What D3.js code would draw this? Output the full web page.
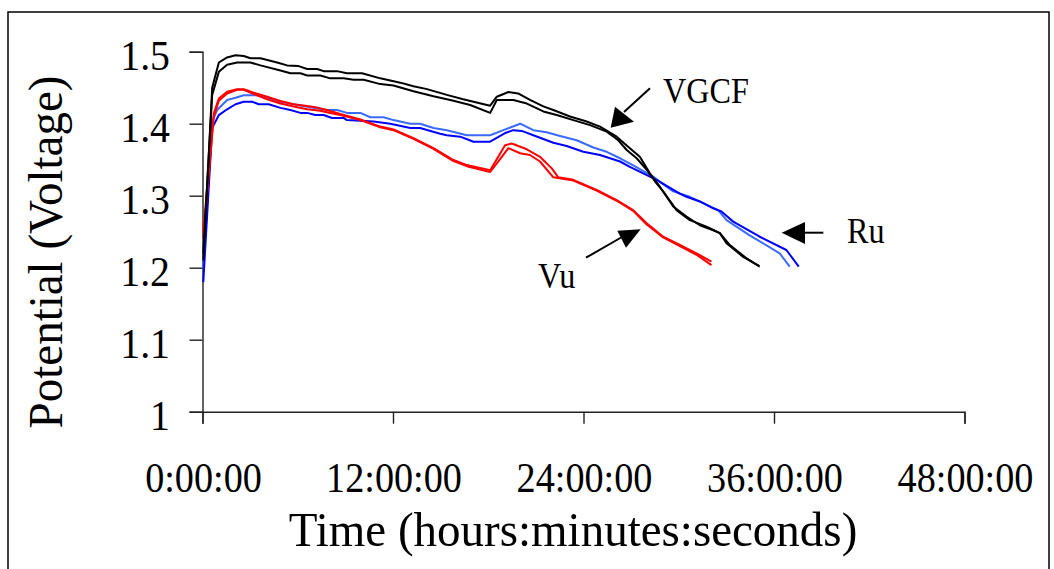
<!DOCTYPE html>
<html>
<head>
<meta charset="utf-8">
<script src="https://cdn.jsdelivr.net/npm/d3@7"></script>
<style>
  html, body { margin: 0; padding: 0; background: #fff; }
  svg { display: block; }
  text { font-family: "Liberation Serif", "Times New Roman", serif; fill: #000; }
</style>
</head>
<body>
<svg id="chart" width="1054" height="569"></svg>
<script>
// time in hours, potential in volts
const vgcfUpper = [[0.05,1.21],[0.61,1.45],[1.03,1.485],[1.55,1.492],[2.08,1.495],[2.60,1.494],[3.02,1.491],[3.65,1.491],[4.70,1.485],[5.33,1.481],[6.06,1.480],[6.59,1.476],[7.22,1.476],[7.63,1.473],[8.47,1.473],[9.10,1.470],[10.05,1.470],[11.20,1.463],[12.46,1.457],[13.29,1.452],[14.14,1.448],[15.39,1.440],[16.42,1.434],[18.12,1.425],[18.54,1.4375],[19.27,1.444],[19.88,1.442],[20.63,1.433],[21.47,1.424],[22.10,1.419],[23.15,1.410],[24.20,1.403],[25.04,1.396],[26.09,1.382],[26.92,1.366],[27.55,1.354],[28.18,1.331],[28.81,1.3125],[29.65,1.285],[30.49,1.271],[31.33,1.259],[32.17,1.252],[32.59,1.248],[33.01,1.234],[34.06,1.215],[35.06,1.2025]];
const vgcfLower = [[0.05,1.22],[0.61,1.44],[1.03,1.472],[1.55,1.482],[2.18,1.485],[3.02,1.485],[3.65,1.481],[4.91,1.474],[5.54,1.470],[6.17,1.470],[6.59,1.467],[7.42,1.467],[8.05,1.463],[8.89,1.463],[9.52,1.461],[10.15,1.461],[11.20,1.455],[12.03,1.453],[13.29,1.445],[14.55,1.438],[15.81,1.432],[16.86,1.426],[18.12,1.415],[18.54,1.433],[19.58,1.433],[20.43,1.428],[21.47,1.417],[22.31,1.412],[23.36,1.405],[24.41,1.398],[25.46,1.389],[26.19,1.377],[26.72,1.3635],[27.35,1.352],[27.98,1.336],[28.60,1.317],[29.02,1.306],[29.86,1.280],[30.70,1.266],[31.75,1.257],[32.59,1.248],[33.22,1.2315],[34.27,1.213],[35.10,1.2015]];
const ruDark = [[0.05,1.18],[0.61,1.394],[1.03,1.412],[1.55,1.420],[2.08,1.427],[2.60,1.4305],[3.13,1.4305],[3.54,1.427],[4.17,1.427],[4.91,1.422],[5.54,1.419],[6.17,1.415],[6.59,1.415],[7.11,1.412],[7.63,1.412],[8.16,1.408],[8.89,1.408],[9.10,1.405],[10.78,1.403],[11.83,1.400],[13.09,1.394],[13.71,1.394],[14.97,1.386],[15.39,1.384],[16.23,1.382],[17.07,1.375],[18.12,1.375],[19.06,1.387],[19.58,1.391],[20.11,1.390],[20.84,1.384],[22.10,1.3735],[22.94,1.369],[23.99,1.361],[25.04,1.3565],[26.30,1.3475],[26.92,1.340],[28.60,1.322],[30.07,1.303],[30.49,1.2985],[31.33,1.292],[32.17,1.2825],[32.69,1.278],[33.43,1.264],[35.10,1.243],[36.78,1.2246],[37.56,1.2015]];
const ruLight = [[0.05,1.20],[0.61,1.403],[0.92,1.419],[1.55,1.433],[2.08,1.436],[2.60,1.4395],[3.44,1.4395],[4.28,1.435],[4.91,1.4305],[5.74,1.427],[6.79,1.423],[7.84,1.419],[8.47,1.419],[9.10,1.415],[9.94,1.415],[10.57,1.409],[11.41,1.409],[12.03,1.405],[13.09,1.400],[13.71,1.400],[14.55,1.394],[15.39,1.391],[16.65,1.384],[18.12,1.384],[18.95,1.391],[20.01,1.400],[20.84,1.391],[21.68,1.388],[22.52,1.383],[23.57,1.377],[24.62,1.367],[25.46,1.361],[26.30,1.352],[27.13,1.342],[28.39,1.3265],[29.23,1.3125],[29.65,1.306],[30.70,1.2985],[32.38,1.281],[32.48,1.280],[33.01,1.266],[34.47,1.245],[36.36,1.220],[36.99,1.2015]];
const vuUpper = [[0.05,1.25],[0.71,1.4145],[1.03,1.435],[1.55,1.4445],[2.18,1.448],[2.60,1.448],[3.23,1.443],[4.07,1.4375],[4.91,1.4315],[5.74,1.427],[6.59,1.4245],[7.11,1.423],[7.84,1.419],[8.68,1.4135],[9.94,1.406],[11.20,1.396],[12.03,1.392],[13.29,1.380],[14.55,1.366],[15.81,1.3495],[16.65,1.3425],[18.12,1.3355],[19.06,1.370],[19.48,1.3725],[20.43,1.3645],[21.26,1.354],[22.00,1.338],[22.41,1.3255],[23.36,1.322],[24.83,1.308],[26.09,1.294],[27.13,1.280],[27.98,1.2617],[29.02,1.243],[30.07,1.2315],[31.12,1.220],[32.06,1.2085]];
const vuLower = [[0.05,1.24],[0.71,1.41],[1.03,1.432],[1.55,1.442],[2.18,1.447],[2.60,1.447],[3.23,1.441],[4.07,1.434],[4.91,1.428],[5.74,1.424],[6.59,1.420],[7.42,1.418],[8.05,1.415],[8.68,1.412],[9.94,1.405],[11.20,1.395],[12.03,1.391],[13.29,1.379],[14.55,1.365],[15.81,1.348],[16.65,1.341],[18.12,1.333],[18.54,1.345],[19.27,1.366],[20.01,1.359],[20.63,1.3565],[21.26,1.3475],[22.10,1.3255],[23.36,1.321],[24.83,1.307],[26.09,1.293],[27.13,1.279],[27.98,1.260],[29.02,1.242],[30.07,1.230],[31.12,1.218],[32.06,1.2035]];

const xTicks = [0, 12, 24, 36, 48];
const xTickLabels = ['0:00:00', '12:00:00', '24:00:00', '36:00:00', '48:00:00'];
const yTicks = [1, 1.1, 1.2, 1.3, 1.4, 1.5];
const yTickLabels = ['1', '1.1', '1.2', '1.3', '1.4', '1.5'];

const series = [
  { data: ruLight, color: '#3a6bff' },
  { data: ruDark, color: '#0000ff' },
  { data: vuLower, color: '#ff0000' },
  { data: vuUpper, color: '#ff0000' },
  { data: vgcfLower, color: '#000000' },
  { data: vgcfUpper, color: '#000000' }
];

const svg = d3.select('#chart');

// outer frame (bottom edge is cut off in the original)
svg.append('rect')
  .attr('x', 8).attr('y', 12)
  .attr('width', 1041).attr('height', 600)
  .attr('fill', 'none')
  .attr('stroke', '#000')
  .attr('stroke-width', 1.5);

const x = d3.scaleLinear().domain([0, 48]).range([202.5, 964.5]);
const y = d3.scaleLinear().domain([1, 1.5]).range([411.7, 51.7]);

// y axis
const yAxis = svg.append('g')
  .attr('transform', `translate(${x(0)},0)`)
  .call(d3.axisLeft(y).tickValues(yTicks).tickSize(13).tickFormat(''));
// x axis
const xAxis = svg.append('g')
  .attr('transform', `translate(0,${y(1)})`)
  .call(d3.axisBottom(x).tickValues(xTicks).tickSize(12).tickFormat(''));

[xAxis, yAxis].forEach(a => {
  a.select('.domain').attr('stroke', '#222').attr('stroke-width', 1.4);
  a.selectAll('.tick line').attr('stroke', '#222').attr('stroke-width', 1.4);
});

// tick labels (the original is slightly stretched vertically)
svg.append('g').selectAll('text')
  .data(yTicks)
  .enter().append('text')
  .attr('transform', d => `translate(170,${y(d) + 18}) scale(0.97,1.04)`)
  .attr('text-anchor', 'end')
  .style('font-size', '41px')
  .text((d, i) => yTickLabels[i]);

svg.append('g').selectAll('text')
  .data(xTicks)
  .enter().append('text')
  .attr('transform', d => `translate(${x(d) + 1},${y(1) + 80}) scale(0.98,1.06)`)
  .attr('text-anchor', 'middle')
  .style('font-size', '39px')
  .text((d, i) => xTickLabels[i]);

// axis titles
svg.append('text')
  .attr('transform', 'translate(573,545.7) scale(1,1.05)')
  .attr('text-anchor', 'middle')
  .style('font-size', '47px')
  .text('Time (hours:minutes:seconds)');

svg.append('text')
  .attr('transform', 'translate(62,252) rotate(-90) scale(1,1.04)')
  .attr('text-anchor', 'middle')
  .style('font-size', '47px')
  .text('Potential (Voltage)');

// data lines
const line = d3.line()
  .x(d => x(d[0]))
  .y(d => y(d[1]));

svg.append('g').selectAll('path')
  .data(series)
  .enter().append('path')
  .attr('d', d => line(d.data))
  .attr('fill', 'none')
  .attr('stroke', d => d.color)
  .attr('stroke-width', 2)
  .attr('stroke-linejoin', 'round');

// annotations: label + arrow
const notes = [
  { label: 'VGCF', tx: 663, ty: 103.3, line: [[650, 88.3], [624, 112]], head: [[610.7, 127.7], [615, 106.7], [634, 121.7]] },
  { label: 'Vu', tx: 538, ty: 288.3, line: [[586, 257.7], [622, 237]], head: [[640.7, 229.3], [617.3, 230.7], [626, 247.7]] },
  { label: 'Ru', tx: 847, ty: 243.3, line: [[823.3, 232.7], [803, 232.7]], head: [[781.7, 232.7], [805, 222], [805, 244]] }
];

const ann = svg.append('g');
notes.forEach(n => {
  ann.append('text')
    .attr('transform', `translate(${n.tx},${n.ty}) scale(0.92,1)`)
    .style('font-size', '35px')
    .text(n.label);
  ann.append('line')
    .attr('x1', n.line[0][0]).attr('y1', n.line[0][1])
    .attr('x2', n.line[1][0]).attr('y2', n.line[1][1])
    .attr('stroke', '#000')
    .attr('stroke-width', 2);
  ann.append('path')
    .attr('d', 'M' + n.head.join('L') + 'Z')
    .attr('fill', '#000');
});
</script>
</body>
</html>
